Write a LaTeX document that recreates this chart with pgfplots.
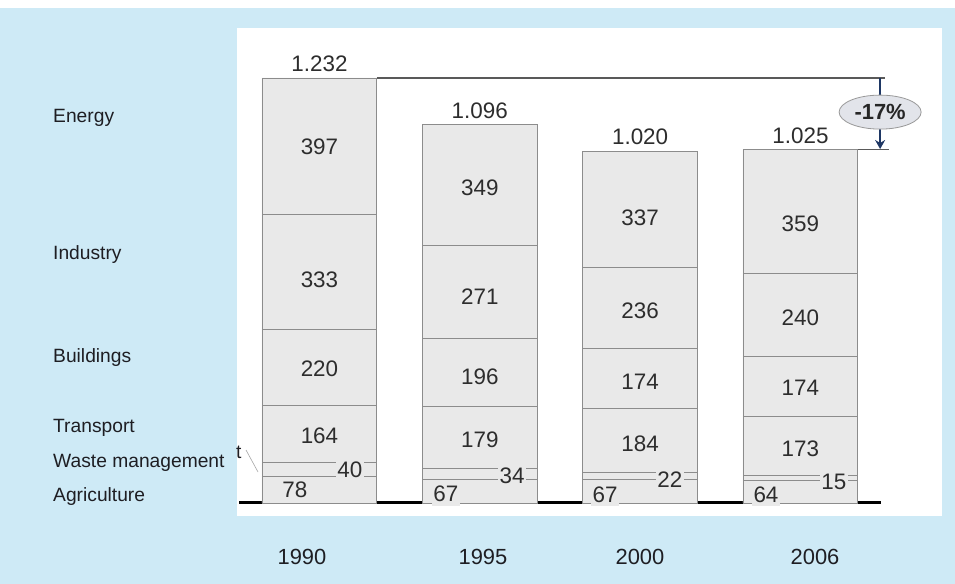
\documentclass[border=0pt]{standalone}
\usepackage{pgfplots}
\pgfplotsset{compat=1.18}
\usepackage{fontspec}
\setmainfont{Liberation Sans}
\usetikzlibrary{arrows.meta}

\definecolor{bgblue}{RGB}{206,234,246}
\definecolor{barfill}{RGB}{233,233,233}
\definecolor{baredge}{RGB}{140,140,140}
\definecolor{numtext}{RGB}{45,45,45}
\definecolor{labtext}{RGB}{30,30,35}
\definecolor{navy}{RGB}{30,55,100}
\definecolor{ovalfill}{RGB}{226,228,234}

\pgfplotsset{
  frame/.style={at={(239.3bp,81bp)}, anchor=south west, scale only axis,
    width=641.3bp, height=448.5bp, xmin=-0.5, xmax=3.5, ymin=0, ymax=1300, clip=false},
  seg/.style={fill=barfill, draw=baredge, line width=0.9bp},
  lbl/.style={only marks, mark=none, nodes near coords, point meta=explicit symbolic,
    nodes near coords align={center},
    every node near coord/.append style={anchor=center, text=numtext,
      font=\fontsize{22.5}{26}\selectfont, inner sep=1.2bp, #1}},
  lbl/.default={},
}

\begin{document}
\begin{tikzpicture}
% background
\fill[bgblue] (0bp,0bp) rectangle (955bp,584bp);
\fill[white] (0bp,576bp) rectangle (955bp,584bp);
\fill[white] (237bp,68bp) rectangle (942bp,556bp);

% sector names
\begin{scope}[every node/.style={anchor=west, inner sep=0pt, text=labtext, font=\fontsize{19.3}{22}\selectfont}]
\node at (53bp,466bp) {Energy};
\node at (53bp,329bp) {Industry};
\node at (53bp,226bp) {Buildings};
\node at (53bp,156bp) {Transport};
\node at (53bp,121bp) {Waste management};
\node at (53bp,87bp) {Agriculture};
\node at (236bp,132bp) {t};
\end{scope}
\draw[black!35, line width=0.6bp] (246bp,134bp) -- (258bp,112bp);

% stacked bars
\begin{axis}[frame, hide axis, ybar stacked, bar width=0.717]
\addplot[seg] coordinates {(0,78) (1,67) (2,67) (3,64)};    % Agriculture
\addplot[seg] coordinates {(0,40) (1,34) (2,22) (3,15)};    % Waste management
\addplot[seg] coordinates {(0,164) (1,179) (2,184) (3,173)}; % Transport
\addplot[seg] coordinates {(0,220) (1,196) (2,174) (3,174)}; % Buildings
\addplot[seg] coordinates {(0,333) (1,271) (2,236) (3,240)}; % Industry
\addplot[seg] coordinates {(0,397) (1,349) (2,337) (3,359)}; % Energy
\draw[black, line width=3bp] (axis cs:-0.5,0) -- (axis cs:3.5,0);
\end{axis}

% labels and annotation
\begin{axis}[frame, axis line style={draw=none}, tick style={draw=none},
    ytick=\empty, xtick={-0.109,1.020,1.999,3.091},
    xticklabels={1990,1995,2000,2006},
    xticklabel style={anchor=center, yshift=-54bp, text=labtext,
      font=\fontsize{22}{25}\selectfont}]
% -17% marker
\draw[black!65, line width=1.2bp] (axis cs:0.3585,1232) -- (axis cs:3.53,1232);
\draw[black!65, line width=1.2bp] (axis cs:3.3585,1025) -- (axis cs:3.55,1025);
\draw[navy, line width=2.2bp] (axis cs:3.497,1232) -- (axis cs:3.497,1180);
\draw[navy, line width=2.2bp, -{Stealth[length=9bp,width=10bp]}] (axis cs:3.497,1086) -- (axis cs:3.497,1026);
\draw[black!40, fill=ovalfill, line width=0.8bp] (axis cs:3.497,1133) ellipse [x radius=41bp, y radius=17bp];
\node[text=black!85, font=\bfseries\fontsize{22}{24}\selectfont] at (axis cs:3.497,1133) {-17\%};

% values inside the larger segments
\addplot[lbl] table[meta=lab] {
x y lab
0 1032 397
0 646 333
0 388 220
0 194 164
1 913 349
1 597 271
1 365 196
1 183 179
2 826 337
2 557 236
2 351 174
2 171 184
3 809 359
3 536 240
3 333 174
3 157 173
};
% waste labels, with a box that breaks the lines
\addplot[lbl={fill=barfill}] table[meta=lab] {
x y lab
0.190 95.7 40
1.201 78.3 34
2.186 66.7 22
3.209 60.9 15
};
% agriculture labels sitting on the base line
\addplot[lbl={fill=barfill, inner ysep=4bp}] table[meta=lab] {
x y lab
0.789 27.0 67
1.781 25.0 67
2.785 25.0 64
};
\addplot[lbl] table[meta=lab] {
x y lab
-0.153 37.7 78
};
% totals
\addplot[lbl] table[meta=lab] {
x y lab
0 1273 1.232
1 1137 1.096
2 1062 1.020
3 1063 1.025
};
\end{axis}
\end{tikzpicture}
\end{document}
